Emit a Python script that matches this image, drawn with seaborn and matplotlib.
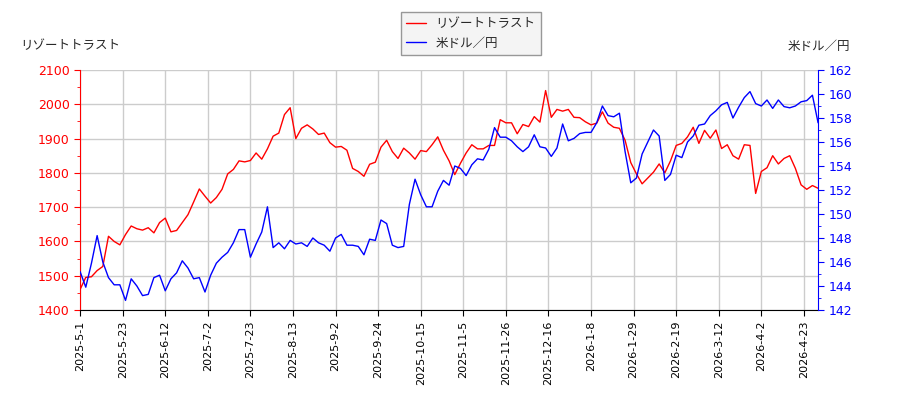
import numpy as np
import pandas as pd
import seaborn as sns
import matplotlib.pyplot as plt

# 取引日ごとの値 (2取引日おき)
resort = [1460, 1495, 1497, 1515, 1527, 1615, 1600, 1590, 1620, 1645, 1637, 1633, 1640, 1625,
          1655, 1668, 1628, 1632, 1655, 1678, 1715, 1753, 1732, 1712, 1728, 1752, 1797,
          1810, 1835, 1832, 1836, 1858, 1840, 1870, 1907, 1916, 1970, 1990, 1900, 1930, 1940,
          1928, 1912, 1916, 1888, 1875, 1877, 1866, 1813, 1804, 1790, 1825, 1831,
          1875, 1895, 1862, 1842, 1872, 1858, 1840, 1865, 1862, 1882, 1905, 1866, 1835, 1795,
          1828, 1858, 1882, 1870, 1870, 1880, 1880, 1955, 1946, 1946, 1914, 1941,
          1935, 1964, 1948, 2040, 1962, 1985, 1980, 1985, 1962, 1961, 1949, 1940, 1945, 1978,
          1945, 1933, 1930, 1895, 1830, 1797, 1768, 1785, 1802, 1826, 1800, 1835,
          1880, 1886, 1905, 1933, 1886, 1924, 1901, 1925, 1871, 1882, 1850, 1840, 1882, 1880,
          1740, 1804, 1815, 1850, 1826, 1842, 1850, 1813, 1765, 1752, 1763, 1755]

usdjpy = [145.2, 143.9, 145.9, 148.2, 146.0, 144.7, 144.1, 144.1, 142.8, 144.6, 144.0, 143.2,
          143.3, 144.7, 144.9, 143.6, 144.6, 145.1, 146.1, 145.5, 144.6, 144.7, 143.5, 144.9,
          145.9, 146.4, 146.8,
          147.6, 148.7, 148.7, 146.4, 147.5, 148.5, 150.6, 147.2, 147.6, 147.1, 147.8, 147.5,
          147.6, 147.3, 148.0, 147.6, 147.4, 146.9, 148.0, 148.3, 147.4, 147.4, 147.3, 146.6,
          147.9, 147.8,
          149.5, 149.2, 147.4, 147.2, 147.3, 150.8, 152.9, 151.6, 150.6, 150.6, 151.9, 152.8,
          152.4, 154.0, 153.8, 153.2, 154.1, 154.6, 154.5, 155.4, 157.2, 156.4, 156.4, 156.1,
          155.6, 155.2,
          155.6, 156.6, 155.6, 155.5, 154.8, 155.5, 157.5, 156.1, 156.3, 156.7, 156.8, 156.8,
          157.6, 159.0, 158.2, 158.1, 158.4, 155.2, 152.6, 153.0, 155.0, 156.0, 157.0, 156.5,
          152.8, 153.3,
          154.9, 154.7, 156.0, 156.5, 157.4, 157.5, 158.2, 158.6, 159.1, 159.3, 158.0, 158.9,
          159.7, 160.2, 159.2, 159.0, 159.5, 158.8, 159.5, 158.95, 158.85, 159.0, 159.35,
          159.45, 159.9, 157.6]

tick_labels = ["2025-5-1", "2025-5-23", "2025-6-12", "2025-7-2", "2025-7-23", "2025-8-13",
               "2025-9-2", "2025-9-24", "2025-10-15", "2025-11-5", "2025-11-26", "2025-12-16",
               "2026-1-8", "2026-1-29", "2026-2-19", "2026-3-12", "2026-4-2", "2026-4-23"]

step = 2        # 取引日の間隔
tick_every = 15

df = pd.DataFrame({"day": np.arange(len(resort)) * step, "resort": resort, "usdjpy": usdjpy})

sns.set_style("whitegrid")
plt.rcParams["font.family"] = ["Noto Sans CJK JP", "DejaVu Sans"]

fig = plt.figure(figsize=(9, 4), dpi=100)
ax = fig.add_axes([0.089, 0.225, 0.82, 0.6])
ax2 = ax.twinx()

sns.lineplot(data=df, x="day", y="resort", ax=ax, color="red", linewidth=1, label="リゾートトラスト", legend=False)
sns.lineplot(data=df, x="day", y="usdjpy", ax=ax2, color="blue", linewidth=1, label="米ドル／円", legend=False)

ax.set_xlim(0, df["day"].iloc[-1])
ax.set_ylim(1400, 2100)
ax2.set_ylim(142, 162)
ax.set_yticks(np.arange(1400, 2101, 100))
ax.set_yticks(np.arange(1400, 2101, 50), minor=True)
ax2.set_yticks(np.arange(142, 163, 2))
ax2.set_yticks(np.arange(142, 163, 1), minor=True)
ax.set_xticks(np.arange(len(tick_labels)) * tick_every)
ax.set_xticklabels(tick_labels, rotation=90, fontsize=8, family=["DejaVu Sans"])

ax.grid(True, color="#cccccc", linewidth=1)
ax2.grid(False)
ax.set_xlabel("")
ax.set_ylabel("")
ax2.set_ylabel("")

for a in (ax, ax2):
    for s in a.spines.values():
        s.set_visible(False)
ax.spines["left"].set_visible(True)
ax.spines["left"].set_color("red")
ax.spines["bottom"].set_visible(True)
ax.spines["bottom"].set_color("black")
ax2.spines["right"].set_visible(True)
ax2.spines["right"].set_color("blue")

ax.tick_params(axis="y", which="both", colors="red", labelsize=9, direction="out", left=True, length=4)
ax.tick_params(axis="y", which="minor", length=2)
ax.tick_params(axis="x", colors="black", direction="out", bottom=True, length=4)
ax2.tick_params(axis="y", which="both", colors="blue", labelsize=9, direction="out", right=True, length=4)
ax2.tick_params(axis="y", which="minor", length=2)
for lab in ax.get_yticklabels() + ax2.get_yticklabels():
    lab.set_family("DejaVu Sans")

fig.text(0.022, 0.885, "リゾートトラスト", fontsize=9, ha="left", va="center")
fig.text(0.945, 0.885, "米ドル／円", fontsize=9, ha="right", va="center")

h1, l1 = ax.get_legend_handles_labels()
h2, l2 = ax2.get_legend_handles_labels()
leg = fig.legend(h1 + h2, l1 + l2, loc="upper center", bbox_to_anchor=(0.523, 0.985),
                 fontsize=9, frameon=True, fancybox=False, facecolor="#f2f2f2",
                 edgecolor="#808080", handlelength=1.6)

fig.savefig("out.png", dpi=100)
